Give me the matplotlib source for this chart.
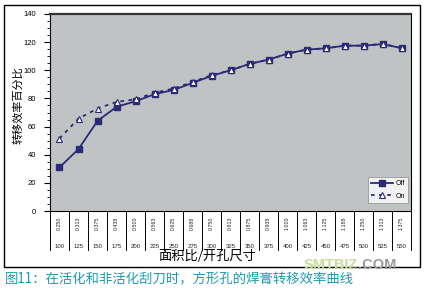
import matplotlib
matplotlib.use('Agg')
import matplotlib.pyplot as plt
from matplotlib.patches import Rectangle
from matplotlib.ticker import MultipleLocator
import matplotlib.transforms as mtrans

plt.rcParams['font.family'] = ['Liberation Sans', 'Noto Sans CJK SC', 'DejaVu Sans']

ratios = ['0.250', '0.313', '0.375', '0.438', '0.500', '0.563', '0.625', '0.688', '0.750', '0.813',
          '0.875', '0.938', '1.000', '1.063', '1.125', '1.188', '1.250', '1.313', '1.375']
sizes = ['100', '125', '150', '175', '200', '225', '250', '275', '300', '325',
         '350', '375', '400', '425', '450', '475', '500', '525', '550']
off_vals = [31, 44, 64, 74, 78, 83, 86, 91, 96, 100, 104.5, 107.6, 111.8, 114.7, 115.6, 117.5, 117.5, 118.6, 115.8]
on_vals = [51.5, 65.7, 72.8, 77.5, 79.4, 84, 87, 91.7, 96.5, 100, 104.5, 107.6, 111.8, 114.7, 115.6, 117.5, 117.5, 118.8, 115.8]

navy = '#2a2a78'
x = list(range(len(ratios)))

fig = plt.figure(figsize=(4.27, 2.88), dpi=100)
fig.patch.set_facecolor('white')

# outer frame
fig.patches.append(Rectangle((4 / 427, 1 - 267 / 288), 416 / 427, 262 / 288, transform=fig.transFigure,
                             fill=False, edgecolor='black', linewidth=1.0))

ax = fig.add_axes([50 / 427, 1 - 211 / 288, 361 / 427, 197 / 288])
ax.set_facecolor('#bfc3c4')
ax.plot(x, off_vals, color=navy, lw=1.3, marker='s', ms=5, mfc=navy, mec=navy, label='Off', zorder=3)
ax.plot(x, on_vals, color=navy, lw=1.3, ls=(0, (2, 2.5)), marker='^', ms=5, mfc='white', mec=navy,
        mew=0.8, label='On', zorder=4)

ax.set_xlim(-0.5, len(ratios) - 0.5)
ax.set_ylim(0, 140)
ax.yaxis.set_major_locator(MultipleLocator(20))
ax.yaxis.set_minor_locator(MultipleLocator(5))
ax.tick_params(axis='y', which='major', length=4, width=0.8, labelsize=5.5, pad=6, direction='out')
ax.tick_params(axis='y', which='minor', length=2, width=0.6, direction='out')
ax.set_xticks([])
for s in ['left', 'bottom', 'right']:
    ax.spines[s].set_linewidth(0.8)
    ax.spines[s].set_color('black')
ax.spines['top'].set_linewidth(1.6)
ax.spines['top'].set_color('#333333')

# table below the axis
trans = mtrans.blended_transform_factory(ax.transData, ax.transAxes)
tb = -39 / 197
for i in range(len(ratios) + 1):
    ax.plot([i - 0.5, i - 0.5], [0, tb], transform=trans, color='black', lw=0.7, clip_on=False)
for i in x:
    ax.text(i, -12 / 197, ratios[i], transform=trans, rotation=90, ha='center', va='center',
            fontsize=3.8, color='#222222')
    ax.text(i, -35.5 / 197, sizes[i], transform=trans, ha='center', va='center',
            fontsize=4.3, color='#222222')

leg = ax.legend(loc='lower right', bbox_to_anchor=(0.993, 0.04), fontsize=5, frameon=True,
                fancybox=False, edgecolor='#888888', handlelength=3.2, handletextpad=0.3,
                borderpad=0.5, labelspacing=0.8, borderaxespad=0)
leg.get_frame().set_linewidth(0.6)

fig.text(18 / 427, 1 - 105 / 288, '转移效率百分比', rotation=90, ha='center', va='center',
         fontsize=8, family=['Noto Sans CJK SC'])
fig.text(207 / 427, 1 - 256 / 288, '面积比/开孔尺寸', ha='center', va='center',
         fontsize=9.5, family=['Noto Sans CJK SC'])

fig.text(358 / 427, 1 - 265 / 288, 'SMTBIZ', ha='right', va='center', fontsize=10.5, weight='bold',
         color='#c6dc9a')
fig.text(358 / 427, 1 - 265 / 288, '.COM', ha='left', va='center', fontsize=10.5, weight='bold',
         color='#9a9a9a')
fig.text(5 / 427, 1 - 279.5 / 288, '图11：在活化和非活化刮刀时，方形孔的焊膏转移效率曲线', ha='left', va='center',
         fontsize=9.6, color='#1e9aae', family=['Noto Sans CJK SC'])

fig.savefig('out.png', dpi=100)
